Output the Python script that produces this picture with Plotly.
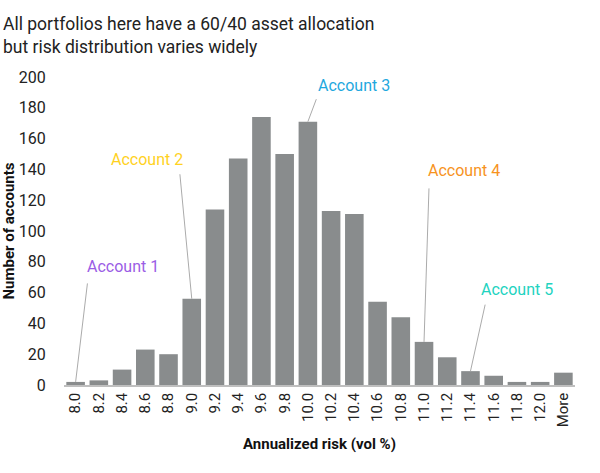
import plotly.graph_objects as go

categories = ["8.0", "8.2", "8.4", "8.6", "8.8", "9.0", "9.2", "9.4", "9.6", "9.8",
              "10.0", "10.2", "10.4", "10.6", "10.8", "11.0", "11.2", "11.4", "11.6",
              "11.8", "12.0", "More"]
counts = [2, 3, 10, 23, 20, 56, 114, 147, 174, 150, 171, 113, 111, 54, 44, 28, 18, 9, 6, 2, 2, 8]

y_ticks = [0, 20, 40, 60, 80, 100, 120, 140, 160, 180, 200]

account_labels = ["Account 1", "Account 2", "Account 3", "Account 4", "Account 5"]
account_bins = ["8.0", "9.0", "10.0", "11.0", "11.4"]
account_colors = ["#9B5DE5", "#FFD21F", "#1FA8DE", "#F7931E", "#22D3BF"]
# leader line tail offsets (px) and label offsets (px) relative to the bar top
leader_offsets = [(12, -100), (-12, -126), (9, -24), (5, -155), (15, -68)]
label_shifts = [(47, 115), (-45, 139), (46, 36), (40, 171), (47, 82)]

FONT = "Roboto"

fig = go.Figure()
fig.add_trace(go.Bar(
    x=categories, y=counts,
    marker=dict(color="#898C8D", line=dict(width=0)),
    width=0.8,
))

annotations = []
for lab, b, col, (ax, ay), (xs, ys) in zip(account_labels, account_bins, account_colors,
                                           leader_offsets, label_shifts):
    i = categories.index(b)
    v = counts[i]
    annotations.append(dict(
        x=i, y=v, xref="x", yref="y", text="", showarrow=True,
        ax=ax, ay=ay, arrowhead=0, arrowwidth=1, arrowcolor="#ABABAB",
    ))
    annotations.append(dict(
        x=i, y=v, xref="x", yref="y", text=lab, showarrow=False,
        xshift=xs, yshift=ys, font=dict(family=FONT, size=16, color=col),
    ))

annotations.append(dict(
    x=0, y=1, xref="paper", yref="paper", xanchor="left", yanchor="top",
    text="All portfolios here have a 60/40 asset allocation<br>but risk distribution varies widely",
    showarrow=False, align="left", font=dict(family=FONT, size=17.5, color="#222222"),
    xshift=-63, yshift=65,
))

fig.update_layout(
    width=600, height=473,
    margin=dict(l=64, r=25, t=77, b=88),
    paper_bgcolor="white", plot_bgcolor="white",
    showlegend=False,
    font=dict(family=FONT, color="#222222"),
    annotations=annotations,
    bargap=0.2,
)
fig.update_xaxes(
    type="category", tickangle=-90, tickfont=dict(size=15, color="#222222"),
    showline=True, linecolor="#BFBFBF", linewidth=1.5, ticks="",
    showgrid=False, range=[-0.5, 21.5], automargin=False,
    title=dict(text="<b>Annualized risk (vol %)</b>", font=dict(size=15, color="#111111"), standoff=12),
)
fig.update_yaxes(
    range=[0, 200], tickvals=y_ticks, tickfont=dict(size=16, color="#222222"),
    showgrid=False, zeroline=False, showline=False, automargin=False,
    ticks="outside", ticklen=14, tickcolor="rgba(0,0,0,0)",
    title=dict(text="<b>Number of accounts</b>", font=dict(size=15, color="#111111"), standoff=1),
)

fig.write_html("out.html")
